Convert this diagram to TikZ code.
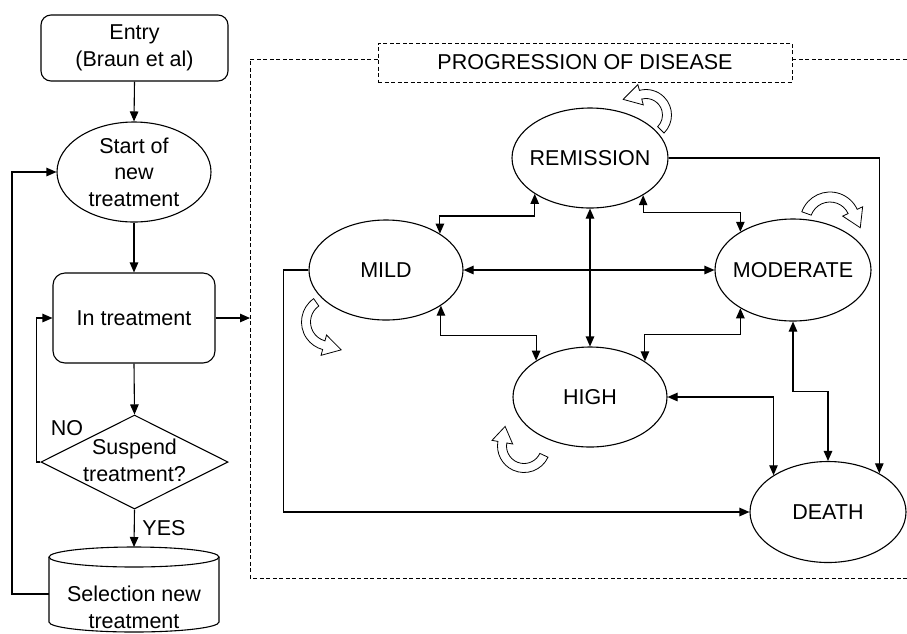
\documentclass[tikz,border=0pt]{standalone}
\usepackage{fontspec}
\setmainfont{Liberation Sans}
\usetikzlibrary{arrows.meta,shapes.geometric,calc}
\newcommand{\blockarc}[9]{%
  \begin{scope}[shift={(#1,#2)}]
    \draw[fill=white, line width=0.8pt, line join=miter]
      (#5:{#3+#4/2}) arc[start angle=#5, end angle=#6, radius={#3+#4/2}]
      -- (#6:{#3+#4/2+#9})
      -- ({#6+#7*atan(#8/#3)}:{sqrt(#3*#3+#8*#8)})
      -- (#6:{#3-#4/2-#9})
      -- (#6:{#3-#4/2}) arc[start angle=#6, end angle=#5, radius={#3-#4/2}]
      -- cycle;
  \end{scope}}
\begin{document}
\begin{tikzpicture}[x=1pt, y=-1pt, line width=1.1pt,
  font=\fontsize{21.5}{26.5}\selectfont,
  >={Triangle[length=10pt,width=8.5pt]},
  box/.style={draw, rounded corners=10pt, align=center, inner sep=0pt},
  oval/.style={draw, ellipse, inner sep=0pt},
  txt/.style={align=center, inner sep=0pt},
  frame/.style={dash pattern=on 4pt off 2.5pt, line width=0.9pt}]
\useasboundingbox (0,0) rectangle (907,633);

% ---------- left flow chart ----------
\node[box, minimum width=187pt, minimum height=66pt] (entry) at (134.5,48) {Entry\\(Braun et al)};
\node[oval, minimum width=154pt, minimum height=100pt] (start) at (134,172) {};
\node[txt] (starttxt) at (start.center) {Start of\\new\\treatment};
\node[box, rounded corners=12pt, minimum width=162pt, minimum height=90pt] (intreat) at (134,318) {In treatment};
\node[draw, diamond, inner sep=0pt, minimum width=187pt, minimum height=94pt] (susp) at (134.5,462) {};
\node[txt] (susptxt) at (134.5,460.5) {Suspend\\treatment?};
\node[txt] (no) at (67,428) {NO};
\node[txt] (yes) at (164,528) {YES};

% cylinder
\draw (49,557) -- (49,622) arc[start angle=180, end angle=0, x radius=85, y radius=10] -- (219,557);
\draw (134,557) ellipse[x radius=85, y radius=10];
\node[txt] (sel) at (134,607.5) {Selection new\\treatment};
\coordinate (selL) at (49,594);
\coordinate (selT) at (134,547);

\draw[->] (entry.south) -- (start.north);
\draw[->] (start.south) -- (intreat.north);
\draw[->] (intreat.south) -- (susp.north);
\draw[->] (susp.south) -- (selT);
\draw[->] (susp.west) -- ++(-4,0) |- (intreat.west);
\draw[->] (selL) -- (12,594) |- (start.west);

% ---------- dashed frame ----------
\node[draw, frame, minimum width=414pt, minimum height=39pt, inner sep=0pt] (title) at (585,62.5) {PROGRESSION OF DISEASE};
\coordinate (fTL) at (250,59);
\coordinate (fBL) at (250,578);
\coordinate (fBR) at (907,578);
\coordinate (fTR) at (907,59);
\draw[frame] (title.west |- fTL) -- (fTL) -- (fBL) -- (fBR);
\draw[frame] (title.east |- fTR) -- (fTR);
\coordinate (dashL) at (250,318);
\draw[->] (intreat.east) -- (dashL);

% ---------- states ----------
\node[oval, minimum width=156pt, minimum height=100pt] (rem) at (590,158) {\makebox[0pt]{REMISSION}};
\node[oval, minimum width=154pt, minimum height=100pt] (mild) at (386,270) {\makebox[0pt]{MILD}};
\node[oval, minimum width=156pt, minimum height=102pt] (mod) at (793,270) {\makebox[0pt]{MODERATE}};
\node[oval, minimum width=154pt, minimum height=100pt] (high) at (590,397) {\makebox[0pt]{HIGH}};
\node[oval, minimum width=156pt, minimum height=101pt] (death) at (828,512) {\makebox[0pt]{DEATH}};

\draw[<->] (mild.34.4) -- ++(0,-17.7) -| (rem.-147.2);
\draw[<->] (rem.-35.6) -- ++(0,17.7) -| (mod.144.8);
\draw[<->] (mild.east) -- (mod.west);
\draw[<->] (rem.south) -- (high.north);
\draw[<->] (mild.-33.4) -- ++(0,29.4) -| (high.146.6);
\draw[<->] (high.33.4) -- ++(0,-26.4) -| (mod.-144.8);
\draw[<->] (high.east) -| (death.146.9);
\draw[<->] (mod.south) -- ++(0,70) -| (death.north);
\draw[->] (rem.east) -| (death.37.8);
\draw[->] (mild.west) -- ++(-25,0) |- (death.west);

% ---------- self-loop block arrows ----------
\blockarc{646}{115}{21}{9}{45}{-105}{-1}{18}{6}
\blockarc{830}{222}{25}{10}{200}{335}{1}{18}{6}
\blockarc{330}{322}{24}{9}{235}{105}{-1}{18}{6}
\blockarc{524}{446}{22}{9}{25}{190}{1}{16}{6}
\end{tikzpicture}
\end{document}
